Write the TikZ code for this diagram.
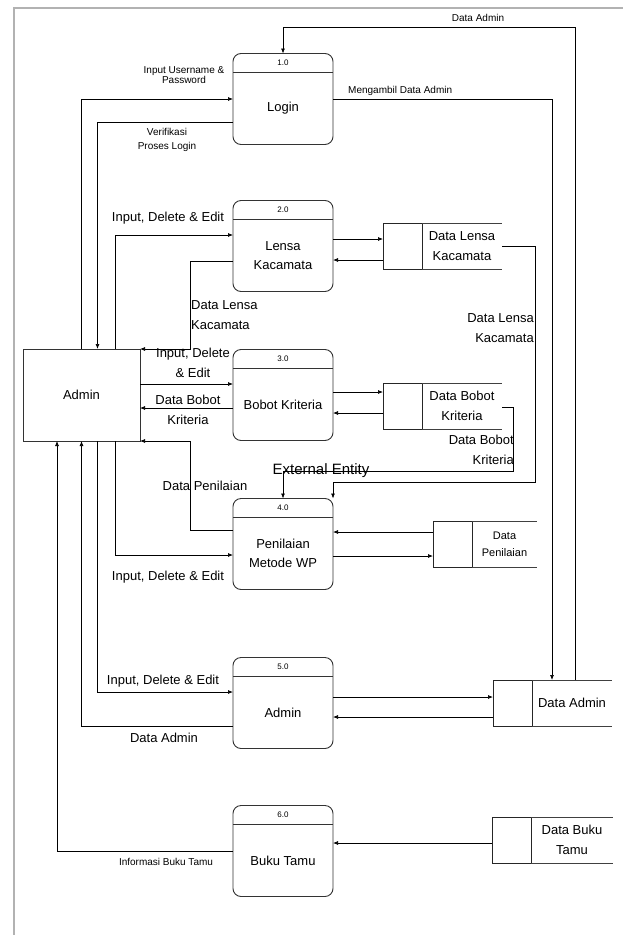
\documentclass[tikz,border=0pt]{standalone}
\usepackage{fontspec}
\setmainfont{Liberation Sans}
\usetikzlibrary{arrows.meta,positioning}

\tikzset{
  proses/.style={draw=black!80, line width=0.9pt, rounded corners=8pt, minimum width=100pt, minimum height=91pt, inner sep=0pt, outer sep=0pt},
  garisproses/.style={draw=black!80, line width=0.9pt},
  nomor/.style={font=\fontsize{8}{8}\selectfont, inner sep=0pt},
  nama/.style={font=\fontsize{13}{19}\selectfont, align=center, inner sep=0pt},
  entitas/.style={draw=black!80, line width=0.8pt, minimum width=117pt, minimum height=92pt, inner sep=0pt, outer sep=0pt, font=\fontsize{13}{15}\selectfont},
  kotakstore/.style={draw=black!85, line width=1pt, minimum width=39pt, minimum height=46pt, inner sep=0pt, outer sep=0pt},
  teksstore/.style={minimum height=46pt, inner sep=0pt, outer sep=0pt, align=center, font=\fontsize{13}{20}\selectfont},
  garisstore/.style={draw=black!75, line width=0.8pt},
  alir/.style={-{Latex[length=5pt,width=4pt]}, line width=0.7pt},
  ket/.style={font=\fontsize{13}{20}\selectfont, inner sep=0pt, align=center},
  ketkecil/.style={font=\fontsize{10}{14}\selectfont, inner sep=0pt, align=center},
}

\begin{document}
\begin{tikzpicture}[x=1pt,y=-1pt]
		\useasboundingbox (0,0) rectangle (623,935);
		% bingkai
		\draw[gray!60, line width=1.5pt] (14,935) -- (14,8) -- (623,8);

		% entitas
		\node[entitas] (admin) at (81.5,395) {Admin};

		% proses
		\node[proses] (p1) at (283,99) {};
		\node[proses] (p2) at (283,246) {};
		\node[proses] (p3) at (283,395) {};
		\node[proses] (p4) at (283,544) {};
		\node[proses] (p5) at (283,703) {};
		\node[proses] (p6) at (283,851) {};
		\foreach \p/\n in {p1/1.0, p2/2.0, p3/3.0, p4/4.0, p5/5.0, p6/6.0} {
			\draw[garisproses] ([yshift=-19pt]\p.north west) -- ([yshift=-19pt]\p.north east);
			\node[nomor] (\p n) at ([yshift=-9.5pt]\p.north) {\n};
		}
		\node[nama] (p1t) at ([yshift=-9.5pt]p1.center) {Login};
		\node[nama] (p2t) at ([yshift=-9.5pt]p2.center) {Lensa\\Kacamata};
		\node[nama] (p3t) at ([yshift=-9.5pt]p3.center) {Bobot Kriteria};
		\node[nama] (p4t) at ([yshift=-9.5pt]p4.center) {Penilaian\\Metode WP};
		\node[nama] (p5t) at ([yshift=-9.5pt]p5.center) {Admin};
		\node[nama] (p6t) at ([yshift=-9.5pt]p6.center) {Buku Tamu};

		% data store
		\node[kotakstore] (s1b) at (402.5,246) {};
		\node[teksstore, minimum width=80pt, right=0pt of s1b] (s1) {Data Lensa\\Kacamata};
		\node[kotakstore] (s2b) at (402.5,406) {};
		\node[teksstore, minimum width=80pt, right=0pt of s2b] (s2) {Data Bobot\\Kriteria};
		\node[kotakstore] (s3b) at (452.5,544) {};
		\node[teksstore, minimum width=65pt, right=0pt of s3b, font=\fontsize{11}{17}\selectfont] (s3) {Data\\Penilaian};
		\node[kotakstore] (s4b) at (512.5,703) {};
		\node[teksstore, minimum width=80pt, right=0pt of s4b] (s4) {Data Admin};
		\node[kotakstore] (s5b) at (511.5,840) {};
		\node[teksstore, minimum width=82pt, right=0pt of s5b] (s5) {Data Buku\\Tamu};
		\foreach \s in {s1, s2, s3, s4, s5} {
			\draw[garisstore] (\s b.north east) -- (\s.north east) (\s b.south east) -- (\s.south east);
		}

		% titik belok
		\coordinate (atas) at (575,27);
		\coordinate (ambil) at (552,99);
		\coordinate (belok1) at (535,482);
		\coordinate (belok2) at (513,471);

		% alur login
		\draw[alir] (admin.north) |- (p1.west);
		\draw[alir] ([yshift=-23pt]p1.west) -| ([xshift=16pt]admin.north);
		\draw[alir] (s4.north -| atas) -- (atas) -| (p1.north);
		\draw[alir] (p1.east) -- (ambil) -- (ambil |- s4.north);

		% alur lensa
		\draw[alir] ([xshift=33.5pt]admin.north) |- ([yshift=11pt]p2.west);
		\draw[alir] ([yshift=-15pt]p2.west) -| ([xshift=50pt]admin.north east) -- (admin.north east);
		\draw[alir] ([yshift=7pt]p2.east) -- ([yshift=7pt]s1b.west);
		\draw[alir] ([yshift=-14pt]s1b.west) -- ([yshift=-14pt]p2.east);

		% alur bobot
		\draw[alir] ([yshift=11pt]admin.east) -- ([yshift=11pt]p3.west);
		\draw[alir] ([yshift=-13pt]p3.west) -- ([yshift=-13pt]admin.east);
		\draw[alir] ([yshift=3pt]p3.east) -- ([yshift=14pt]s2b.west);
		\draw[alir] ([yshift=-7pt]s2b.west) -- ([yshift=-18pt]p3.east);

		% alur penilaian
		\draw[alir] (s1.east) -| (belok1) -| (p4.north east);
		\draw[alir] ([yshift=-1pt]s2.east) -| (belok2) -| (p4.north);
		\draw[alir] ([yshift=14pt]p4.west) -| ([xshift=50pt]admin.south east) -- (admin.south east);
		\draw[alir] ([xshift=33.5pt]admin.south) |- ([yshift=-11pt]p4.west);
		\draw[alir] ([yshift=12pt]s3b.west) -- ([yshift=12pt]p4.east);
		\draw[alir] ([yshift=-12pt]p4.east) -- ([yshift=-12pt]s3b.west);

		% alur admin
		\draw[alir] ([xshift=16pt]admin.south) |- ([yshift=11pt]p5.west);
		\draw[alir] ([yshift=-23pt]p5.west) -| (admin.south);
		\draw[alir] ([yshift=6pt]p5.east) -- ([yshift=6pt]s4b.west);
		\draw[alir] ([yshift=-14pt]s4b.west) -- ([yshift=-14pt]p5.east);

		% alur buku tamu
		\draw[alir] (p6.west) -| ([xshift=-24.5pt]admin.south);
		\draw[alir] ([yshift=-3pt]s5b.west) -- ([yshift=8pt]p6.east);

		% keterangan
		\node[ketkecil, font=\fontsize{10}{8.5}\selectfont] (kUser) at (184,75) {Input Username \&\\Password};
		\node[ketkecil] (kVerif) at (167,140) {Verifikasi\\Proses Login};
		\node[ketkecil] (kAtas) at (478,18) {Data Admin};
		\node[ketkecil, anchor=west] (kAmbil) at (348,91) {Mengambil Data Admin};
		\node[ket] (kInput2) at (168,218) {Input, Delete \& Edit};
		\node[ket, anchor=west, align=left] (kLensa1) at (191,315) {Data Lensa\\Kacamata};
		\node[ket] (kInput3) at (193,363) {Input, Delete\\\& Edit};
		\node[ket] (kBobot1) at (188,410) {Data Bobot\\Kriteria};
		\node[ket, anchor=east, align=right] (kLensa2) at (534,328) {Data Lensa\\Kacamata};
		\node[ket, anchor=east, align=right] (kBobot2) at (514,450) {Data Bobot\\Kriteria};
		\node[ket, font=\fontsize{15}{18}\selectfont] (kExt) at (321,471) {External Entity};
		\node[ket] (kNilai) at (205,486) {Data Penilaian};
		\node[ket] (kInput4) at (168,577) {Input, Delete \& Edit};
		\node[ket] (kInput5) at (163,681) {Input, Delete \& Edit};
		\node[ket] (kAdmin) at (164,738) {Data Admin};
		\node[ketkecil] (kTamu) at (166,862) {Informasi Buku Tamu};
\end{tikzpicture}
\end{document}
